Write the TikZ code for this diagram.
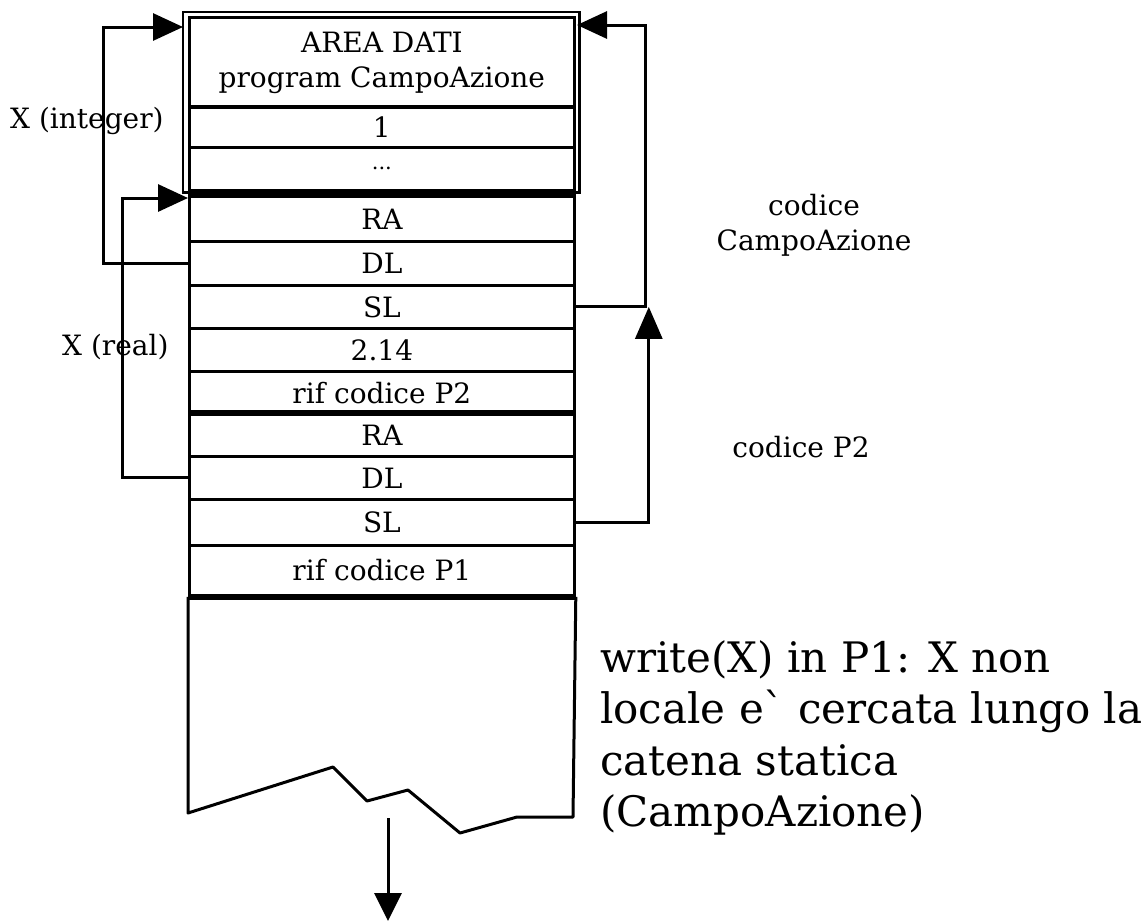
\documentclass[tikz,border=0pt]{standalone}
\usepackage{fontspec}
\setmainfont{DejaVu Serif}
\usetikzlibrary{arrows.meta}

\newcommand\cellfont{\fontsize{28}{35}\selectfont}
\newcommand\notefont{\fontsize{42}{51.5}\selectfont}

\tikzset{
  cellbox/.style={draw, line width=2.8pt, minimum width=385pt, inner sep=0pt,
                  anchor=north west, font=\cellfont},
  conn/.style={line width=3pt},
  tipA/.style={-{Triangle[length=30pt,width=27pt]}},
  sepline/.style={line width=5.5pt},
  label/.style={font=\cellfont, inner sep=0pt},
}

\begin{document}
\begin{tikzpicture}[x=1pt,y=-1pt]
  \fill[white] (0,0) rectangle (1145,922);
  \useasboundingbox (0,0) rectangle (1145,922);

  % data area of the main program (double frame)
  \node[cellbox, minimum height=90pt, align=center] (head) at (188,16)
       {AREA DATI\\program CampoAzione};
  \node[cellbox, minimum height=41pt] (one)  at (188,105) {1};
  \node[cellbox, minimum height=43pt] (more) at (188,146)
       {\fontsize{21}{21}\selectfont ...};
  \draw[line width=2.8pt] ([xshift=-5pt,yshift=4pt]head.north west)
       rectangle ([xshift=4pt,yshift=-1pt]more.south east);

  % activation record of P2
  \node[cellbox, minimum height=45pt] (ra1)  at (188,195) {RA};
  \node[cellbox, minimum height=44pt] (dl1)  at (188,240) {DL};
  \node[cellbox, minimum height=43pt] (sl1)  at (188,284) {SL};
  \node[cellbox, minimum height=43pt] (val)  at (188,327) {2.14};
  \node[cellbox, minimum height=43pt] (rif2) at (188,370) {rif codice P2};
  % activation record of P1
  \node[cellbox, minimum height=42pt] (ra2)  at (188,413) {RA};
  \node[cellbox, minimum height=43pt] (dl2)  at (188,455) {DL};
  \node[cellbox, minimum height=46pt] (sl2)  at (188,498) {SL};
  \node[cellbox, minimum height=50pt] (rif1) at (188,544) {rif codice P1};

  % record boundaries
  \draw[sepline] (ra1.north west) -- (ra1.north east);
  \draw[sepline] (ra2.north west) -- (ra2.north east);
  \draw[sepline] (rif1.south west) -- (rif1.south east);

  % free stack area with torn bottom edge
  \draw[line width=3pt, line join=round]
       (rif1.south west) -- (188,813) -- (333,767) -- (367,801) -- (408,790)
       -- (460,833) -- (517,817) -- (573,817) -- (rif1.south east);

  % stack growth
  \coordinate (growA) at (388,818);
  \coordinate (growB) at (388,921);
  \draw[conn, -{Triangle[length=28pt,width=27pt]}] (growA) -- (growB);

  % dynamic links
  \coordinate (dataIn) at (183,27);
  \draw[conn, tipA] (dl1.west) -- ++(-85,0) |- (dataIn);
  \draw[conn, tipA] (dl2.west) -- ++(-66,0) |- ([yshift=-3pt]ra1.north west);

  % static links
  \coordinate (dataInR) at (577,25);
  \draw[conn, tipA] (sl1.east) -- ++(70,0) |- (dataInR);
  \draw[conn, -{Triangle[length=32pt,width=27pt]}] (sl2.east) -| ([xshift=73pt]sl1.east);

  % variable labels
  \node[label, anchor=base west] (xint)  at (10,128) {X (integer)};
  \node[label, anchor=base west] (xreal) at (62,355) {X (real)};

  % code areas
  \node[label, align=center, anchor=north] (codeMain) at (814,194)
       {codice\\CampoAzione};
  \node[label, anchor=base] (codeP2) at (801,457) {codice P2};

  % remark
  \node[inner sep=0pt, anchor=north west, align=left, font=\notefont] (note) at (600,640)
       {write(X) in P1: X non\\locale e\textasciigrave{} cercata lungo la\\catena statica\\(CampoAzione)};
\end{tikzpicture}
\end{document}
